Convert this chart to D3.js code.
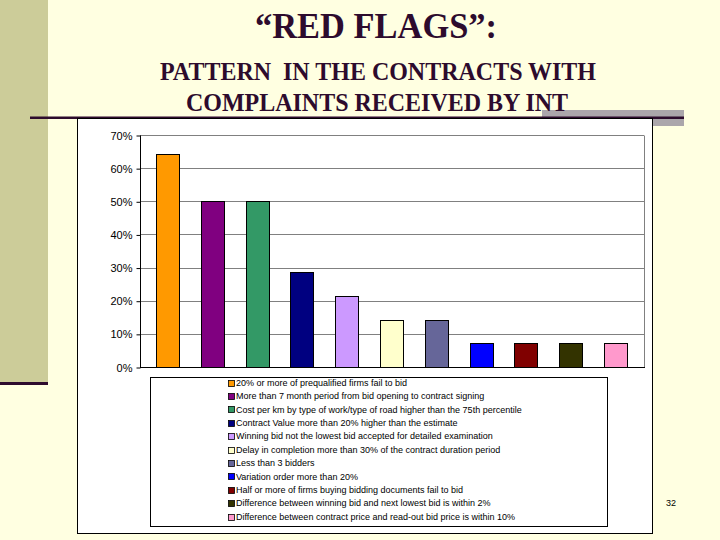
<!DOCTYPE html>
<html>
<head>
<meta charset="utf-8">
<script src="https://cdn.jsdelivr.net/npm/d3@7"></script>
<style>
  html, body { margin: 0; padding: 0; background: #FFFFE1; }
  svg { display: block; }
  .serif { font-family: "Liberation Serif", "Times New Roman", "DejaVu Serif", serif; }
</style>
</head>
<body>
<svg id="chart" width="720" height="540"></svg>
<script>
// ---- data ----
const categories = [
  "20% or more of prequalified firms fail to bid",
  "More than 7 month period from bid opening to contract signing",
  "Cost per km by type of work/type of road higher than the 75th percentile",
  "Contract Value more than 20% higher than the estimate",
  "Winning bid not the lowest bid accepted for detailed examination",
  "Delay in completion more than 30% of the contract duration period",
  "Less than 3 bidders",
  "Variation order more than 20%",
  "Half or more of firms buying bidding documents fail to bid",
  "Difference between winning bid and next lowest bid is within 2%",
  "Difference between contract price and read-out bid price is within 10%"
];
const values = [0.643, 0.50, 0.50, 0.286, 0.214, 0.143, 0.143, 0.071, 0.071, 0.071, 0.071];
const colors = ["#FF9900", "#800080", "#339966", "#000080", "#CC99FF", "#FFFFCC",
                "#666699", "#0000FF", "#800000", "#333300", "#FF99CC"];
const yTicks = [0, 0.1, 0.2, 0.3, 0.4, 0.5, 0.6, 0.7];
const titleText = "\u201CRED FLAGS\u201D:";
const subtitleLines = ["PATTERN  IN THE CONTRACTS WITH", "COMPLAINTS RECEIVED BY INT"];
const pageNumber = "32";

// ---- drawing ----
const svg = d3.select("#chart");
const ink = "#2d0b2d";

// slide background & decoration
svg.append("rect").attr("x", 0).attr("y", 0).attr("width", 720).attr("height", 540).attr("fill", "#FFFFE1");
svg.append("rect").attr("x", 0).attr("y", 0).attr("width", 48).attr("height", 383).attr("fill", "#CCCC99");
svg.append("rect").attr("x", 0).attr("y", 382).attr("width", 48).attr("height", 3).attr("fill", ink);
svg.append("rect").attr("x", 542).attr("y", 110).attr("width", 142).attr("height", 8).attr("fill", "#ABA6AB");
svg.append("rect").attr("x", 653).attr("y", 118).attr("width", 31).attr("height", 8).attr("fill", "#ABA6AB");
svg.append("rect").attr("x", 30).attr("y", 116.5).attr("width", 654).attr("height", 2.5).attr("fill", ink);

// titles
svg.append("text").attr("class", "serif").attr("x", 376).attr("y", 38).attr("text-anchor", "middle")
  .attr("font-weight", "bold")
  .attr("font-size", 35).attr("fill", ink)
  .attr("textLength", 242).attr("lengthAdjust", "spacingAndGlyphs")
  .text(titleText);
const subBase = [80, 111];
const subLen = [436, 382];
subtitleLines.forEach((t, i) => {
  svg.append("text").attr("class", "serif").attr("x", [378, 377][i]).attr("y", subBase[i]).attr("text-anchor", "middle")
    .attr("font-weight", "bold")
    .attr("font-size", 25).attr("fill", ink)
    .attr("textLength", subLen[i]).attr("lengthAdjust", "spacingAndGlyphs")
    .style("white-space", "pre")
    .text(t);
});

// chart frame
svg.append("rect").attr("x", 77.5).attr("y", 118.5).attr("width", 575).attr("height", 415)
  .attr("fill", "#FFFFFF").attr("stroke", "#000").attr("stroke-width", 1);

// scales
const plotLeft = 140, plotRight = 644, plotTop = 135, plotBottom = 367;
const x = d3.scaleBand().domain(categories).range([145.1, 637.9]).paddingInner(0.49).paddingOuter(0.245);
const y = d3.scaleLinear().domain([0, 0.7]).range([plotBottom, plotTop]);

// gridlines
const g = svg.append("g");
g.selectAll("line.grid").data(yTicks.filter(t => t > 0)).join("line")
  .attr("class", "grid")
  .attr("x1", plotLeft).attr("x2", plotRight)
  .attr("y1", d => Math.round(y(d)) + 0.5).attr("y2", d => Math.round(y(d)) + 0.5)
  .attr("stroke", "#808080").attr("stroke-width", 1);
g.append("line").attr("x1", plotRight + 0.5).attr("x2", plotRight + 0.5)
  .attr("y1", plotTop + 0.5).attr("y2", plotBottom).attr("stroke", "#808080");

// bars
g.selectAll("rect.bar").data(values).join("rect")
  .attr("class", "bar")
  .attr("x", (d, i) => Math.round(x(categories[i])) + 0.5)
  .attr("y", d => Math.round(y(d)) + 0.5)
  .attr("width", Math.round(x.bandwidth()))
  .attr("height", d => Math.round(plotBottom - y(d)))
  .attr("fill", (d, i) => colors[i])
  .attr("stroke", "#000").attr("stroke-width", 1);

// y axis
const yAxis = d3.axisLeft(y).tickValues(yTicks).tickFormat(d3.format(".0%")).tickSize(4).tickPadding(4);
const ya = svg.append("g").attr("transform", `translate(${plotLeft + 0.5},0.5)`).call(yAxis);
ya.select(".domain").attr("stroke", "#000").attr("d", `M0,${plotTop}V${plotBottom}`);
ya.selectAll(".tick line").attr("stroke", "#000");
ya.selectAll(".tick text").attr("font-family", "Arial, 'Liberation Sans', sans-serif")
  .attr("font-size", 11).attr("fill", "#000");

// x axis baseline
svg.append("line").attr("x1", plotLeft).attr("x2", plotRight + 1)
  .attr("y1", plotBottom + 0.5).attr("y2", plotBottom + 0.5).attr("stroke", "#000");

// legend
svg.append("rect").attr("x", 150.5).attr("y", 377.5).attr("width", 457).attr("height", 149)
  .attr("fill", "#FFFFFF").attr("stroke", "#000");
const lg = svg.append("g");
const rowY = i => 382.5 + i * 13.4;
lg.selectAll("rect.sw").data(categories).join("rect")
  .attr("class", "sw")
  .attr("x", 228.5).attr("y", (d, i) => Math.round(rowY(i)) - 3 + 0.5)
  .attr("width", 6).attr("height", 6)
  .attr("fill", (d, i) => colors[i]).attr("stroke", "#000").attr("stroke-width", 0.8);
lg.selectAll("text.lt").data(categories).join("text")
  .attr("class", "lt")
  .attr("x", 236).attr("y", (d, i) => rowY(i) + 3.2)
  .attr("font-family", "Arial, 'Liberation Sans', sans-serif").attr("font-size", 9).attr("fill", "#000")
  .text(d => d);

// page number
svg.append("text").attr("x", 666).attr("y", 506)
  .attr("font-family", "Arial, 'Liberation Sans', sans-serif").attr("font-size", 9).attr("fill", "#000")
  .text(pageNumber);
</script>
</body>
</html>
